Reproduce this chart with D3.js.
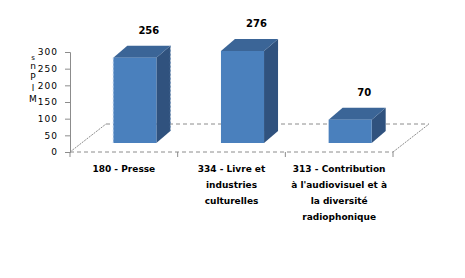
<!DOCTYPE html>
<html>
<head>
<meta charset="utf-8">
<script src="https://cdn.jsdelivr.net/npm/d3@7"></script>
<style>
  body { margin: 0; background: #fff; }
  svg { display: block; }
  text { font-family: "DejaVu Sans", sans-serif; }
  .tick text { font-size: 9px; fill: #000; letter-spacing: 1px; }
</style>
</head>
<body>
<svg></svg>
<script>
// Data
let categories = ['180 - Presse', '334 - Livre et industries culturelles', '313 - Contribution à l\'audiovisuel et à la diversité radiophonique']
let labelLines = [
    ['180 - Presse'],
    ['334 - Livre et', 'industries', 'culturelles'],
    ['313 - Contribution', 'à l\'audiovisuel et à', 'la diversité', 'radiophonique']
]
let values = [256, 276, 70]
let yTicks = [0, 50, 100, 150, 200, 250, 300]
let yTitle = ['s', 'n', 'P', 'l', 'M']

// Dimensions
let width = 465
let height = 278
let floor = { left: 70, right: 393, y: 152, top: 52 }
let depth = { x: 36, y: -28 }      // floor depth
let barDepth = { x: 14, y: -12 }   // column depth
let barShift = { x: 11, y: -9 }    // column sits inside the floor

let colors = { front: '#4a80bd', side: '#30527e', top: '#3b6597', grid: '#8c8c8c' }

let svg = d3.select('svg')
    .attr('width', width)
    .attr('height', height)

// Scales
let scale = {
    x: d3.scaleBand().domain(categories).range([floor.left, floor.right]),
    y: d3.scaleLinear().domain([0, 300]).range([floor.y, floor.top])
}

// Floor: back edge, diagonals, front edge
svg.append('line')
    .attr('x1', floor.left + depth.x).attr('y1', floor.y + depth.y)
    .attr('x2', floor.right + depth.x).attr('y2', floor.y + depth.y)
    .attr('stroke', colors.grid).attr('stroke-dasharray', '4,3')

svg.append('line')
    .attr('x1', floor.left).attr('y1', floor.y)
    .attr('x2', floor.left + depth.x).attr('y2', floor.y + depth.y)
    .attr('stroke', colors.grid).attr('stroke-dasharray', '2,1')

svg.append('line')
    .attr('x1', floor.right).attr('y1', floor.y)
    .attr('x2', floor.right + depth.x).attr('y2', floor.y + depth.y)
    .attr('stroke', colors.grid).attr('stroke-dasharray', '2,1')

svg.append('line')
    .attr('x1', floor.left).attr('y1', floor.y)
    .attr('x2', floor.right).attr('y2', floor.y)
    .attr('stroke', colors.grid).attr('stroke-dasharray', '4,3')

// Category boundary ticks
let bounds = categories.map(c => scale.x(c)).concat([floor.right])
svg.selectAll('.xtick')
    .data(bounds)
    .enter()
    .append('line')
    .attr('class', 'xtick')
    .attr('x1', d => d).attr('x2', d => d)
    .attr('y1', floor.y).attr('y2', floor.y + 5)
    .attr('stroke', colors.grid)

// Y axis
let yAxis = svg.append('g')
    .attr('transform', `translate(${floor.left},0)`)
    .call(d3.axisLeft(scale.y).tickValues(yTicks).tickSize(5).tickPadding(7))
yAxis.select('.domain').attr('stroke', colors.grid)
yAxis.selectAll('.tick line').attr('stroke', colors.grid)

// Y title (stacked letters)
svg.append('g')
    .selectAll('text')
    .data(yTitle)
    .enter()
    .append('text')
    .attr('x', 33)
    .attr('y', (d, i) => [60, 69, 80, 91, 102][i])
    .attr('text-anchor', 'middle')
    .attr('font-size', (d, i) => i == 0 ? 7 : 9)
    .text(d => d)

// Columns
let bw = scale.x.bandwidth() * 0.4
let bars = svg.selectAll('.bar')
    .data(values)
    .enter()
    .append('g')
    .attr('class', 'bar')

let bx = (d, i) => scale.x(categories[i]) + (scale.x.bandwidth() - bw) / 2 + barShift.x
let by = d => scale.y(d) + barShift.y
let base = scale.y(0) + barShift.y

// side face
bars.append('path')
    .attr('d', (d, i) => {
        let x = bx(d, i) + bw
        let y = by(d)
        return `M${x},${y}L${x + barDepth.x},${y + barDepth.y}L${x + barDepth.x},${base + barDepth.y}L${x},${base}Z`
    })
    .attr('fill', colors.side)

// top face
bars.append('path')
    .attr('d', (d, i) => {
        let x = bx(d, i)
        let y = by(d)
        return `M${x},${y}L${x + barDepth.x},${y + barDepth.y}L${x + bw + barDepth.x},${y + barDepth.y}L${x + bw},${y}Z`
    })
    .attr('fill', colors.top)

// front face
bars.append('rect')
    .attr('x', (d, i) => bx(d, i))
    .attr('y', d => by(d))
    .attr('width', bw)
    .attr('height', d => base - by(d))
    .attr('fill', colors.front)

// selected-looking dashed edges on the first column
let first = values[0]
svg.append('line')
    .attr('x1', bx(first, 0)).attr('x2', bx(first, 0))
    .attr('y1', by(first)).attr('y2', base)
    .attr('stroke', '#9fbfe3').attr('stroke-dasharray', '2,2')
svg.append('line')
    .attr('x1', bx(first, 0) + bw + barDepth.x).attr('x2', bx(first, 0) + bw + barDepth.x)
    .attr('y1', by(first) + barDepth.y).attr('y2', base + barDepth.y)
    .attr('stroke', '#6f8fb5').attr('stroke-dasharray', '2,2')

// Value labels
svg.selectAll('.value')
    .data(values)
    .enter()
    .append('text')
    .attr('class', 'value')
    .attr('x', (d, i) => bx(d, i) + bw / 2 + 14)
    .attr('y', d => by(d) + barDepth.y - 12)
    .attr('text-anchor', 'middle')
    .attr('font-size', 10)
    .attr('font-weight', 'bold')
    .text(d => d)

// Category labels
let catLabels = svg.selectAll('.cat')
    .data(labelLines)
    .enter()
    .append('text')
    .attr('class', 'cat')
    .attr('text-anchor', 'middle')
    .attr('font-size', 9)
    .attr('font-weight', 'bold')

catLabels.selectAll('tspan')
    .data((d, i) => d.map(l => ({ l: l, i: i })))
    .enter()
    .append('tspan')
    .attr('x', d => scale.x(categories[d.i]) + scale.x.bandwidth() / 2)
    .attr('y', (d, j) => 172 + j * 16)
    .text(d => d.l)
</script>
</body>
</html>
